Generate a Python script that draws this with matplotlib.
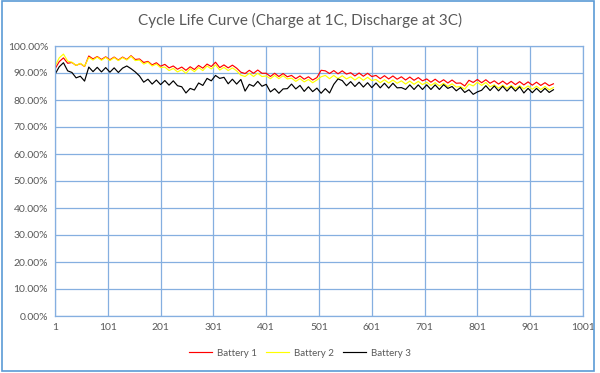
import numpy as np
import matplotlib
matplotlib.use("Agg")
import matplotlib.pyplot as plt
from matplotlib.patches import Rectangle
from matplotlib.ticker import FuncFormatter

plt.rcParams['font.family'] = ['Lato', 'DejaVu Sans']

# cycle number every 8 cycles, 1 .. 945
cycles = np.arange(1, 946, 8)

battery1 = [91.5, 94.2, 95.6, 93.6, 93.9, 92.8, 93.5, 92.4, 96.3, 95.2,
            96.1, 95.0, 96.0, 94.9, 95.9, 94.8, 95.9, 95.0, 96.4, 95.0,
            95.2, 93.9, 94.3, 93.0, 93.8, 92.5, 93.2, 91.9, 92.6, 91.4,
            92.2, 91.0, 92.3, 91.3, 92.8, 91.8, 93.3, 92.4, 94.0, 92.0,
            93.0, 91.9, 92.9, 91.8, 90.3, 89.8, 91.0, 89.9, 91.1, 89.9,
            89.9, 88.7, 89.9, 88.7, 89.8, 88.6, 89.1, 87.9, 88.9, 87.7,
            88.6, 87.4, 88.3, 91.0, 90.8, 89.8, 90.9, 89.7, 90.8, 89.6,
            90.1, 88.9, 90.0, 88.8, 89.9, 88.7, 89.1, 87.9, 89.0, 87.8,
            88.9, 87.7, 88.6, 87.4, 88.5, 87.3, 88.3, 87.1, 87.8, 86.6,
            87.7, 86.5, 87.5, 86.3, 87.4, 86.2, 86.3, 85.2, 87.3, 86.5,
            87.6, 86.4, 87.5, 86.2, 87.1, 85.9, 87.0, 85.8, 86.9, 85.7,
            86.8, 85.6, 86.7, 85.5, 86.6, 85.4, 86.4, 85.3, 86.0]

battery2 = [92.5, 95.6, 97.0, 94.4, 94.0, 92.8, 93.6, 92.5, 95.8, 94.8,
            95.9, 94.7, 95.8, 94.6, 95.7, 94.6, 95.7, 94.8, 96.2, 94.6,
            94.8, 93.3, 94.0, 92.6, 93.3, 92.0, 92.2, 90.9, 91.7, 90.4,
            91.2, 89.9, 91.6, 90.5, 92.0, 90.9, 92.6, 91.5, 93.0, 91.1,
            92.1, 90.9, 91.9, 90.8, 89.2, 88.7, 89.9, 88.7, 89.9, 88.7,
            88.9, 87.9, 89.1, 87.9, 89.0, 87.8, 88.1, 86.9, 87.9, 86.7,
            87.6, 86.4, 87.4, 88.6, 89.1, 87.9, 89.1, 87.9, 89.0, 87.8,
            88.6, 87.4, 88.5, 87.3, 88.4, 87.2, 87.6, 86.4, 87.5, 86.3,
            87.4, 86.2, 87.1, 85.9, 87.0, 85.8, 86.9, 85.7, 86.6, 85.4,
            86.4, 85.2, 86.2, 85.0, 86.0, 84.8, 85.0, 84.0, 85.9, 85.2,
            86.6, 85.4, 86.5, 84.9, 85.6, 84.4, 85.5, 84.3, 85.4, 84.2,
            85.3, 84.1, 85.2, 84.0, 85.1, 83.9, 85.0, 83.8, 84.6]

battery3 = [89.5, 92.3, 93.8, 90.8, 90.2, 88.2, 88.8, 87.0, 92.2, 90.5,
            92.1, 90.4, 92.0, 90.3, 91.9, 90.2, 91.8, 92.6, 91.6, 90.4,
            88.9, 86.6, 87.7, 85.9, 87.4, 85.7, 87.2, 85.5, 87.1, 85.3,
            84.9, 82.6, 84.3, 83.7, 86.3, 85.4, 88.0, 87.1, 89.1, 88.0,
            88.4, 86.0, 87.7, 85.9, 87.6, 83.3, 85.8, 85.1, 86.9, 85.1,
            85.8, 83.0, 84.2, 82.5, 84.1, 84.2, 85.9, 84.1, 85.4, 83.2,
            84.9, 83.1, 84.4, 82.5, 84.2, 82.6, 85.8, 87.8, 87.2, 85.3,
            86.8, 85.0, 86.6, 84.8, 86.4, 84.6, 86.3, 84.5, 86.2, 84.4,
            86.2, 84.5, 84.6, 83.9, 85.6, 83.9, 85.6, 83.9, 85.6, 83.9,
            85.6, 83.9, 85.7, 84.3, 85.0, 83.4, 84.6, 82.8, 83.8, 82.1,
            83.0, 83.6, 85.3, 83.5, 85.2, 83.4, 85.1, 83.3, 85.0, 83.3,
            84.9, 82.6, 84.3, 82.7, 84.3, 82.8, 84.3, 82.8, 83.8]

series = [("Battery 1", battery1, "#ff0000"),
          ("Battery 2", battery2, "#ffff00"),
          ("Battery 3", battery3, "#000000")]

x_ticks = np.arange(1, 1002, 100)
y_ticks = np.arange(0, 101, 10)

grid_col = "#85afe0"
text_col = "#595959"

fig = plt.figure(figsize=(6.0, 3.73), dpi=100)
ax = fig.add_axes([55/600, 1 - 316/373, 528/600, 270/373])

for name, vals, col in series:
    ax.plot(cycles, vals, color=col, lw=0.85, label=name)

ax.set_xlim(1, 1001)
ax.set_ylim(0, 100)
ax.set_xticks(x_ticks)
ax.set_yticks(y_ticks)
ax.yaxis.set_major_formatter(FuncFormatter(lambda v, p: f"{v:.2f}%"))
ax.grid(True, color=grid_col, lw=0.9)
ax.set_axisbelow(True)
for s in ax.spines.values():
    s.set_color(grid_col)
    s.set_linewidth(0.9)
ax.tick_params(length=0, labelsize=7.5, colors=text_col, pad=5)

fig.text(0.5, 1 - 20/373, "Cycle Life Curve (Charge at 1C, Discharge at 3C)",
         ha="center", va="center", fontsize=11, color=text_col)

leg = fig.legend(loc="center", bbox_to_anchor=(0.5, 1 - 353/373), ncol=3,
                 frameon=False, fontsize=7, handlelength=2.4,
                 columnspacing=0.9, handletextpad=0.5)
for t in leg.get_texts():
    t.set_color(text_col)

fig.patches.append(Rectangle((0.004, 0.006), 0.986, 0.99, transform=fig.transFigure,
                             fill=False, edgecolor="#5b9bd5", lw=1.2))

fig.savefig("out.png", dpi=100)
